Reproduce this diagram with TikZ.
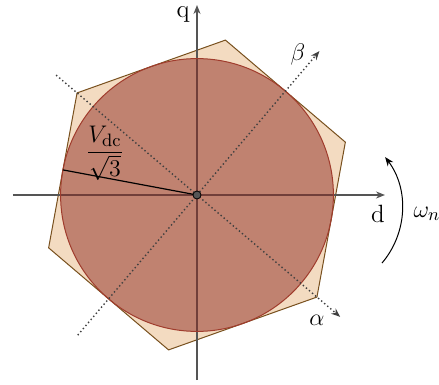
\documentclass[tikz,border=0pt]{standalone}
\usetikzlibrary{arrows.meta,calc}
\definecolor{hexfill}{RGB}{243,219,193}
\definecolor{hexedge}{RGB}{120,80,30}
\definecolor{circfill}{RGB}{142,42,32}
\definecolor{circedge}{RGB}{160,60,45}
\definecolor{axisgray}{RGB}{85,85,85}
\begin{document}
\begin{tikzpicture}[x=0.5pt,y=0.5pt, font=\fontsize{12.5}{15}\selectfont,
  axis/.style={draw=axisgray, line width=0.75pt, -{Stealth[length=4.5pt,width=3.5pt]}},
  dotaxis/.style={draw=black!75, line width=0.7pt, dash pattern=on 0.7pt off 1.3pt, -{Stealth[length=4.5pt,width=3.5pt]}},
  lbl/.style={inner sep=0pt}]
\useasboundingbox (-197,-190) rectangle (242,195);
\coordinate (O) at (0,0);
% hexagon
\foreach \i in {0,...,5} \coordinate (h\i) at ({19.6+60*\i}:157.5);
\draw[fill=hexfill, draw=hexedge, line width=0.5pt] (h0) -- (h1) -- (h2) -- (h3) -- (h4) -- (h5) -- cycle;
% axes
\coordinate (dL) at (-184,0); \coordinate (dR) at (188,0);
\coordinate (qB) at (0,-185); \coordinate (qT) at (0,190);
\draw[axis] (dL) -- (dR);
\draw[axis] (qB) -- (qT);
% circle
\fill[circfill, fill opacity=0.5] (O) circle (136.4);
\draw[circedge, line width=0.5pt] (O) circle (136.4);
% alpha beta axes
\coordinate (aS) at (139.6:185); \coordinate (aE) at (-40.4:188);
\coordinate (bS) at (229.6:184); \coordinate (bE) at (49.6:189);
\draw[dotaxis] (aS) -- (aE);
\draw[dotaxis] (bS) -- (bE);
% radius
\coordinate (V) at (169.4:136.4);
\draw[black, line width=0.6pt] (O) -- (V);
\node[lbl] (vlab) at (-92,42) {$\displaystyle\frac{V_{\mathrm{dc}}}{\sqrt{3}}$};
% centre dot
\node[circle, fill=axisgray, draw=black, inner sep=0pt, minimum size=4pt, line width=0.4pt] (c) at (O) {};
% labels
\node[lbl] (ql) at (-14,181) {q};
\node[lbl] (dl) at (181,-19) {d};
\node[lbl] (bl) at (101,140) {$\beta$};
\node[lbl] (al) at (120,-125) {$\alpha$};
\node[lbl] (wl) at (230,-19) {$\omega_n$};
% rotation arc
\coordinate (wc) at (120.4,-13.1);
\draw[black, line width=0.5pt, -{Stealth[length=4.5pt,width=3.5pt]}] ([shift={(-40.4:84.8)}]wc) arc[start angle=-40.4, end angle=37, radius=84.8];
\end{tikzpicture}
\end{document}
